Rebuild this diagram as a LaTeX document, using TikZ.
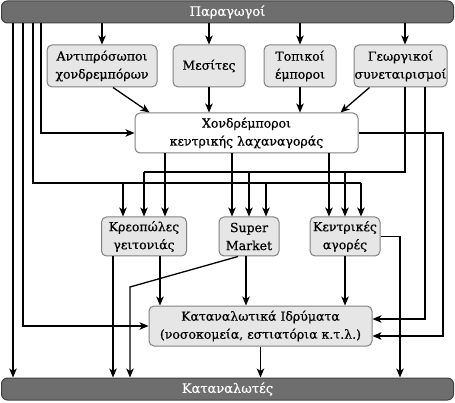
\documentclass[tikz,border=0pt]{standalone}
\usepackage{fontspec}
\setmainfont{DejaVu Serif}[FakeBold=0.6]
\usetikzlibrary{arrows.meta, positioning}
\definecolor{boxFill}{RGB}{230,230,230}
\definecolor{boxLine}{RGB}{128,128,128}
\definecolor{barFill}{RGB}{110,110,110}
\definecolor{barLine}{RGB}{64,64,64}

\begin{document}
\begin{tikzpicture}[x=1pt, y=-1pt,
    box/.style={rectangle, draw=boxLine, fill=boxFill, rounded corners=5pt, line width=1pt, minimum height=42pt, align=center, inner sep=0pt, font=\fontsize{12.5}{18}\selectfont},
    bar/.style={rectangle, draw=barLine, fill=barFill, rounded corners=6pt, line width=1pt, minimum width=452pt, minimum height=22pt, text=white, font=\fontsize{13}{15}\selectfont},
    wire/.style={line width=1.3pt},
    link/.style={wire, -{Stealth[length=9pt, width=7.5pt, inset=2.5pt]}}
]
\useasboundingbox (0,0) rectangle (455,403);

\node[bar] (prod) at (227.5,12) {Παραγωγοί};
\node[bar] (cons) at (227.5,389) {Καταναλωτές};
\node[box, minimum width=110pt] (agents) at (102,66) {Αντιπρόσωποι\\χονδρεμπόρων};
\node[box, minimum width=72pt] (brokers) at (209,66) {Μεσίτες};
\node[box, minimum width=72pt] (locals) at (300,66) {Τοπικοί\\έμποροι};
\node[box, minimum width=93pt] (coops) at (400.5,66) {Γεωργικοί\\συνεταιρισμοί};
\node[box, fill=white, minimum width=223pt, minimum height=40pt] (wholesale) at (246.5,133) {Χονδρέμποροι\\κεντρικής λαχαναγοράς};
\node[box, minimum width=85pt, minimum height=39pt] (butchers) at (144,236.5) {Κρεοπώλες\\γειτονιάς};
\node[box, minimum width=60pt, minimum height=39pt] (market) at (249,236.5) {Super\\Market};
\node[box, minimum width=70pt, minimum height=39pt] (central) at (345,236.5) {Κεντρικές\\αγορές};
\node[box, minimum width=223pt, minimum height=40pt] (inst) at (260.5,326) {Καταναλωτικά Ιδρύματα\\(νοσοκομεία, εστιατόρια κ.τ.λ.)};

\coordinate (c1) at (13,0);
\coordinate (c2) at (23,0);
\coordinate (c3) at (33,0);
\coordinate (c4) at (41,0);
\coordinate (g1) at (405,0);
\coordinate (g2) at (425,0);
\coordinate (g3) at (443,0);
\coordinate (k1) at (400,0);
\coordinate (busA) at (0,183);
\coordinate (busB) at (0,172);
\coordinate (bend) at (130,287);

\foreach \n in {agents, brokers, locals}
    \draw[link] (prod.south -| \n.north) -- (\n.north);
\draw[link] (prod.south -| g1) -- (coops.north -| g1);
\draw[link] ([xshift=11pt]agents.south) -- ([xshift=-97pt]wholesale.north);
\draw[link] (brokers.south) -- (brokers.south |- wholesale.north);
\draw[link] (locals.south) -- (locals.south |- wholesale.north);
\draw[link] ([xshift=-31pt]coops.south) -- ([xshift=94pt]wholesale.north);

\draw[link] (prod.south -| c1) -- (cons.north -| c1);
\draw[link] (prod.south -| c2) |- (inst.west);
\draw[link] (prod.south -| c4) |- (wholesale.west);

\draw[wire] (prod.south -| c3) |- ([xshift=16pt]central.north |- busA);
\foreach \n/\s in {butchers/-21pt, market/17pt, central/16pt}
    \draw[link] ([xshift=\s]\n.north |- busA) -- ([xshift=\s]\n.north);
\draw[wire] (butchers.north |- busB) -| (coops.south -| g1);
\foreach \n in {butchers, market, central}
    \draw[link] (\n.north |- busB) -- (\n.north);
\foreach \n/\s in {butchers/21pt, market/-17pt, central/-16pt}
    \draw[link] ([xshift=\s]\n.north |- wholesale.south) -- ([xshift=\s]\n.north);

\draw[link] (coops.south -| g2) |- ([yshift=7pt]inst.east);
\draw[link] (wholesale.east) -| ([yshift=-10pt]inst.east -| g3) -- ([yshift=-10pt]inst.east);
\draw[link] (central.east) -| (cons.north -| k1);

\draw[link] ([xshift=-31pt]butchers.south) -- ([xshift=-31pt]butchers.south |- cons.north);
\draw[link] ([xshift=16pt]butchers.south) -- ([xshift=16pt]butchers.south |- inst.north);
\draw[link] ([xshift=-11pt]market.south) -- (bend) -- (bend |- cons.north);
\draw[link] ([xshift=-3pt]market.south) -- ([xshift=-3pt]market.south |- inst.north);
\draw[link] (central.south) -- (central.south |- inst.north);
\draw[link] (inst.south) -- (inst.south |- cons.north);
\end{tikzpicture}
\end{document}
